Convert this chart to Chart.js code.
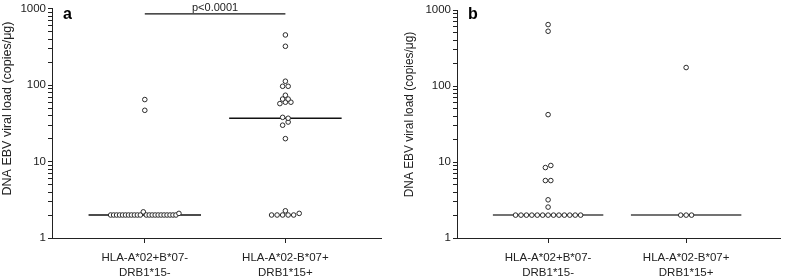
<!DOCTYPE html>
<html>
<head>
<meta charset="utf-8">
<script src="https://cdn.jsdelivr.net/npm/chart.js@4/dist/chart.umd.min.js"></script>
<style>
  body { margin: 0; background: #fff; }
  #wrap { position: relative; width: 785px; height: 280px; }
  canvas { position: absolute; top: 0; }
  #chartA { left: 0; }
  #chartB { left: 400px; }
</style>
</head>
<body>
<div id="wrap">
  <canvas id="chartA" width="392" height="280"></canvas>
  <canvas id="chartB" width="385" height="280"></canvas>
</div>
<script>
// categories and tick labels
const categories = [['HLA-A*02+B*07-', 'DRB1*15-'], ['HLA-A*02-B*07+', 'DRB1*15+']];
const yTicks = [1, 10, 100, 1000];
const yTitle = 'DNA EBV viral load (copies/\u03bcg)';

// panel a (copies/ug)
const a1 = [65, 47, 2, 2, 2, 2, 2, 2, 2, 2, 2, 2, 2, 2.2, 2, 2, 2, 2, 2, 2, 2, 2, 2, 2, 2, 2.1];
const a2 = [456, 324, 113, 97, 97, 74, 66, 66, 57.5, 60, 60, 38, 37, 30, 33, 20, 2.27, 2, 2, 2, 2, 2, 2.1];
const medA = [2, 37];
const pBar = 860;
const pLabel = 'p<0.0001';

// panel b
const b1 = [643, 525, 42, 8.45, 9.0, 5.7, 5.7, 3.18, 2.55, 2, 2, 2, 2, 2, 2, 2, 2, 2, 2, 2, 2, 2];
const b2 = [175, 2, 2, 2];
const medB = [2, 2];

const FONT = '"Liberation Sans", Arial, sans-serif';
const INK = '#222';

// column scatter layout: points that fall in the same height band sit side by side
const STEP = 5.5 / 140;     // horizontal gap between neighbours (category units)
const MAX_ROW = 68 / 140;   // widest row before points start to overlap
const BAND = 3.5 / 76.5;    // band height in decades

function swarm(values, cat) {
  const idx = values.map((v, i) => i).sort((i, j) => values[i] - values[j]);
  const bins = [];
  let cur = null;
  idx.forEach(i => {
    const ly = Math.log10(values[i]);
    if (cur && ly - cur.base < BAND) cur.items.push(i);
    else { cur = { base: ly, items: [i] }; bins.push(cur); }
  });
  const pts = [];
  bins.forEach(b => {
    b.items.sort((p, q) => p - q);
    const n = b.items.length;
    const step = n > 1 ? Math.min(STEP, MAX_ROW / (n - 1)) : 0;
    b.items.forEach((i, k) => pts.push({ x: cat + (k - (n - 1) / 2) * step, y: values[i] }));
  });
  return pts;
}

function pointSet(values, cat) {
  return {
    type: 'scatter',
    data: swarm(values, cat),
    pointStyle: 'circle',
    pointRadius: 2.3,
    pointBorderWidth: 1,
    pointBorderColor: '#2a2a2a',
    pointBackgroundColor: '#fff',
    order: 0
  };
}

function medianSet(v, cat, color, width) {
  return {
    type: 'line',
    data: [{ x: cat - 0.4, y: v }, { x: cat + 0.4, y: v }],
    borderColor: color,
    borderWidth: width,
    pointRadius: 0,
    order: 1
  };
}

const textPlugin = {
  id: 'labels',
  afterDraw(chart, args, o) {
    const ctx = chart.ctx;
    ctx.save();
    ctx.fillStyle = INK;
    ctx.translate(o.titleX, o.titleY);
    ctx.rotate(-Math.PI / 2);
    ctx.font = o.titleSize + 'px ' + FONT;
    ctx.textAlign = 'center';
    ctx.textBaseline = 'middle';
    ctx.fillText(yTitle, 0, 0);
    ctx.restore();

    ctx.save();
    ctx.fillStyle = '#000';
    ctx.font = 'bold 16px ' + FONT;
    ctx.textBaseline = 'alphabetic';
    ctx.fillText(o.letter, o.letterX, 19);
    if (o.pText) {
      const x = chart.scales.x.getPixelForValue(1.5);
      const y = chart.scales.y.getPixelForValue(pBar);
      ctx.fillStyle = INK;
      ctx.font = '11px ' + FONT;
      ctx.textAlign = 'center';
      ctx.fillText(o.pText, x, y - 3);
    }
    ctx.restore();
  }
};

function makeChart(id, datasets, opt) {
  return new Chart(document.getElementById(id), {
    data: { datasets: datasets },
    plugins: [textPlugin],
    options: {
      responsive: false,
      animation: false,
      layout: { padding: { top: opt.top, right: opt.right, left: 0, bottom: 0 } },
      plugins: {
        legend: { display: false },
        tooltip: { enabled: false },
        labels: opt.labels
      },
      scales: {
        x: {
          type: 'linear',
          min: 0.34,
          max: 2.68,
          afterBuildTicks: s => { s.ticks = [{ value: 1 }, { value: 2 }]; },
          afterFit: s => { s.height = 42; },
          ticks: {
            callback: v => categories[v - 1],
            color: INK,
            font: { family: FONT, size: 11.5, lineHeight: 1.35 },
            padding: 7,
            maxRotation: 0
          },
          grid: { drawOnChartArea: false, tickLength: 5, color: INK },
          border: { color: INK, width: 1 }
        },
        y: {
          type: 'logarithmic',
          min: 1,
          max: 1000,
          afterBuildTicks: s => {
            const t = [];
            yTicks.forEach((d, i) => {
              if (i === yTicks.length - 1) { t.push({ value: d }); return; }
              for (let k = 1; k < 10; k++) t.push({ value: d * k });
            });
            s.ticks = t;
          },
          afterFit: s => { s.width = opt.yWidth; },
          ticks: {
            autoSkip: false,
            callback: v => (yTicks.includes(v) ? String(v) : ''),
            color: INK,
            font: { family: FONT, size: 11.5 },
            padding: 2
          },
          grid: { drawOnChartArea: false, tickLength: 4, color: INK },
          border: { color: INK, width: 1 }
        }
      }
    }
  });
}

window.onload = function () {
  makeChart('chartA', [
    pointSet(a1, 1),
    pointSet(a2, 2),
    medianSet(medA[0], 1, '#111', 1.3),
    medianSet(medA[1], 2, '#111', 1.3),
    {
      type: 'line',
      data: [{ x: 1, y: pBar }, { x: 2, y: pBar }],
      borderColor: '#111',
      borderWidth: 1.3,
      pointRadius: 0,
      order: 1
    }
  ], {
    top: 8, right: 11, yWidth: 52,
    labels: { titleX: 8, titleY: 108.5, titleSize: 12.5, letter: 'a', letterX: 63, pText: pLabel }
  });

  makeChart('chartB', [
    pointSet(b1, 1),
    pointSet(b2, 2),
    medianSet(medB[0], 1, '#444', 1.5),
    medianSet(medB[1], 2, '#444', 1.5)
  ], {
    top: 10, right: 4, yWidth: 57,
    labels: { titleX: 10, titleY: 114.5, titleSize: 11.9, letter: 'b', letterX: 68, pText: null }
  });
};
</script>
</body>
</html>
